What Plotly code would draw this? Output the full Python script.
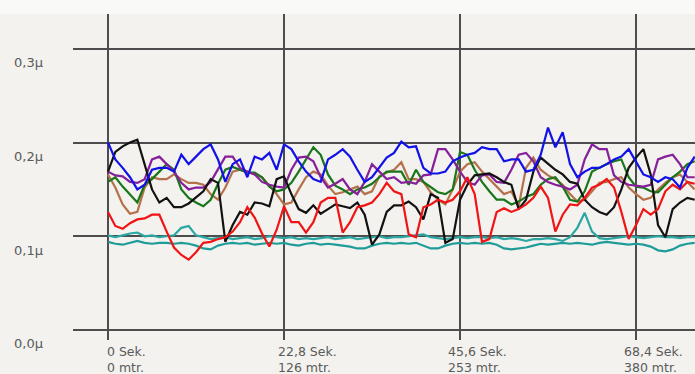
import plotly.graph_objects as go

# Sample times in seconds (one reading every 0.95 s)
STEP = 0.95
time_s = [round(i * STEP, 2) for i in range(81)]

blue = [0.200, 0.182, 0.173, 0.163, 0.150, 0.155, 0.171, 0.173, 0.173, 0.169,
        0.187, 0.177, 0.185, 0.193, 0.198, 0.182, 0.158, 0.177, 0.182, 0.163,
        0.185, 0.182, 0.189, 0.171, 0.198, 0.193, 0.180, 0.169, 0.161, 0.158,
        0.182, 0.187, 0.193, 0.185, 0.171, 0.158, 0.163, 0.173, 0.184, 0.189,
        0.201, 0.195, 0.196, 0.173, 0.167, 0.167, 0.169, 0.180, 0.184, 0.187,
        0.189, 0.195, 0.193, 0.193, 0.180, 0.182, 0.182, 0.169, 0.171, 0.187,
        0.216, 0.195, 0.211, 0.177, 0.163, 0.169, 0.173, 0.173, 0.177, 0.182,
        0.185, 0.193, 0.180, 0.166, 0.163, 0.158, 0.163, 0.161, 0.152, 0.173,
        0.185]

purple = [0.169, 0.165, 0.164, 0.158, 0.157, 0.161, 0.182, 0.185, 0.177, 0.169,
          0.157, 0.150, 0.152, 0.152, 0.158, 0.171, 0.185, 0.185, 0.173, 0.169,
          0.166, 0.158, 0.155, 0.153, 0.152, 0.171, 0.184, 0.185, 0.180, 0.163,
          0.152, 0.156, 0.161, 0.150, 0.145, 0.158, 0.177, 0.169, 0.161, 0.163,
          0.157, 0.158, 0.156, 0.165, 0.166, 0.193, 0.193, 0.182, 0.169, 0.158,
          0.155, 0.165, 0.166, 0.158, 0.157, 0.171, 0.187, 0.189, 0.180, 0.163,
          0.158, 0.155, 0.153, 0.150, 0.155, 0.182, 0.198, 0.193, 0.193, 0.165,
          0.158, 0.155, 0.154, 0.153, 0.155, 0.182, 0.185, 0.187, 0.177, 0.163,
          0.163]

green = [0.158, 0.163, 0.153, 0.145, 0.136, 0.155, 0.161, 0.169, 0.177, 0.171,
         0.150, 0.141, 0.136, 0.132, 0.139, 0.156, 0.171, 0.174, 0.171, 0.168,
         0.168, 0.163, 0.153, 0.148, 0.150, 0.157, 0.169, 0.182, 0.195, 0.187,
         0.166, 0.154, 0.150, 0.145, 0.150, 0.152, 0.156, 0.163, 0.169, 0.169,
         0.169, 0.155, 0.171, 0.158, 0.152, 0.147, 0.145, 0.150, 0.190, 0.187,
         0.171, 0.158, 0.148, 0.139, 0.139, 0.134, 0.137, 0.142, 0.145, 0.155,
         0.161, 0.163, 0.153, 0.139, 0.137, 0.148, 0.169, 0.173, 0.177, 0.180,
         0.182, 0.163, 0.153, 0.152, 0.148, 0.147, 0.155, 0.163, 0.169, 0.177,
         0.180]

black = [0.169, 0.190, 0.196, 0.200, 0.203, 0.177, 0.150, 0.136, 0.141, 0.131,
         0.131, 0.135, 0.141, 0.148, 0.161, 0.157, 0.094, 0.112, 0.126, 0.123,
         0.136, 0.135, 0.132, 0.161, 0.164, 0.145, 0.129, 0.125, 0.133, 0.124,
         0.129, 0.134, 0.132, 0.130, 0.136, 0.123, 0.091, 0.102, 0.126, 0.133,
         0.133, 0.137, 0.131, 0.118, 0.145, 0.141, 0.093, 0.097, 0.139, 0.155,
         0.165, 0.166, 0.167, 0.163, 0.158, 0.155, 0.129, 0.139, 0.169, 0.184,
         0.177, 0.171, 0.166, 0.158, 0.156, 0.139, 0.131, 0.126, 0.123, 0.131,
         0.150, 0.173, 0.184, 0.193, 0.166, 0.112, 0.099, 0.129, 0.136, 0.141,
         0.139]

red = [0.126, 0.111, 0.108, 0.114, 0.118, 0.119, 0.123, 0.123, 0.105, 0.088,
       0.080, 0.075, 0.083, 0.093, 0.094, 0.097, 0.099, 0.105, 0.115, 0.131,
       0.120, 0.103, 0.089, 0.107, 0.132, 0.115, 0.115, 0.104, 0.115, 0.136,
       0.141, 0.141, 0.104, 0.115, 0.131, 0.133, 0.136, 0.145, 0.157, 0.148,
       0.145, 0.102, 0.099, 0.131, 0.134, 0.139, 0.136, 0.139, 0.148, 0.163,
       0.145, 0.094, 0.097, 0.126, 0.130, 0.126, 0.129, 0.134, 0.141, 0.153,
       0.141, 0.105, 0.123, 0.134, 0.133, 0.141, 0.152, 0.155, 0.161, 0.152,
       0.126, 0.097, 0.112, 0.129, 0.123, 0.129, 0.148, 0.155, 0.150, 0.158,
       0.156]

brown = [0.166, 0.152, 0.134, 0.124, 0.126, 0.152, 0.163, 0.161, 0.161, 0.166,
         0.161, 0.157, 0.157, 0.155, 0.145, 0.139, 0.152, 0.169, 0.171, 0.169,
         0.166, 0.163, 0.154, 0.145, 0.134, 0.136, 0.150, 0.163, 0.169, 0.166,
         0.154, 0.145, 0.147, 0.150, 0.153, 0.145, 0.148, 0.164, 0.168, 0.171,
         0.179, 0.161, 0.161, 0.158, 0.147, 0.139, 0.134, 0.150, 0.169, 0.177,
         0.179, 0.169, 0.161, 0.152, 0.145, 0.148, 0.132, 0.173, 0.184, 0.171,
         0.165, 0.161, 0.155, 0.145, 0.137, 0.139, 0.148, 0.157, 0.158, 0.161,
         0.163, 0.152, 0.145, 0.139, 0.141, 0.150, 0.157, 0.163, 0.166, 0.158,
         0.150]

teal_a = [0.101, 0.099, 0.101, 0.103, 0.104, 0.100, 0.101, 0.099, 0.100, 0.101,
          0.109, 0.111, 0.101, 0.099, 0.097, 0.098, 0.099, 0.097, 0.098, 0.099,
          0.097, 0.098, 0.100, 0.099, 0.098, 0.099, 0.097, 0.098, 0.097, 0.098,
          0.099, 0.097, 0.098, 0.099, 0.097, 0.098, 0.099, 0.100, 0.098, 0.099,
          0.099, 0.100, 0.101, 0.102, 0.099, 0.098, 0.097, 0.098, 0.099, 0.098,
          0.099, 0.099, 0.098, 0.099, 0.097, 0.098, 0.097, 0.095, 0.097, 0.097,
          0.098, 0.097, 0.095, 0.099, 0.109, 0.125, 0.105, 0.098, 0.097, 0.098,
          0.099, 0.100, 0.099, 0.098, 0.099, 0.100, 0.099, 0.099, 0.098, 0.099,
          0.099]

teal_b = [0.094, 0.092, 0.091, 0.093, 0.095, 0.093, 0.092, 0.093, 0.093, 0.092,
          0.093, 0.092, 0.090, 0.087, 0.086, 0.090, 0.092, 0.093, 0.092, 0.093,
          0.091, 0.092, 0.093, 0.092, 0.093, 0.091, 0.090, 0.092, 0.093, 0.091,
          0.092, 0.091, 0.090, 0.089, 0.087, 0.087, 0.090, 0.092, 0.093, 0.092,
          0.093, 0.092, 0.093, 0.090, 0.087, 0.087, 0.090, 0.092, 0.093, 0.092,
          0.093, 0.092, 0.093, 0.091, 0.087, 0.086, 0.087, 0.088, 0.090, 0.092,
          0.091, 0.092, 0.093, 0.092, 0.093, 0.092, 0.091, 0.093, 0.094, 0.093,
          0.092, 0.091, 0.092, 0.091, 0.089, 0.085, 0.084, 0.086, 0.090, 0.092,
          0.093]

# Axis ticks
x_ticks = [0, 22.8, 45.6, 68.4]
x_tick_sek = ["0 Sek.", "22,8 Sek.", "45,6 Sek.", "68,4 Sek."]
x_tick_mtr = ["0 mtr.", "126 mtr.", "253 mtr.", "380 mtr."]
y_ticks = [0.0, 0.1, 0.2, 0.3]
y_tick_text = ["0,0µ", "0,1µ", "0,2µ", "0,3µ"]

series = [
    (teal_b, "#1f9c98"),
    (teal_a, "#2aa7a2"),
    (brown, "#b5724a"),
    (green, "#1a761a"),
    (purple, "#86209a"),
    (black, "#121212"),
    (red, "#f01414"),
    (blue, "#1212e8"),
]

fig = go.Figure()
for values, color in series:
    fig.add_trace(go.Scatter(
        x=time_s, y=values, mode="lines",
        line=dict(color=color, width=2.2),
        hoverinfo="skip", showlegend=False,
    ))

GRID = "#4d4d4d"
TEXT = "#5a5a5a"
FONT = "DejaVu Sans"

fig.update_layout(
    width=695, height=374,
    margin=dict(l=73, r=0, t=14, b=34),
    paper_bgcolor="#f3f2ef",
    plot_bgcolor="#f3f2ef",
    showlegend=False,
    xaxis=dict(
        range=[-4.534, 76.04], tickvals=x_ticks, showticklabels=False,
        showgrid=True, gridcolor=GRID, gridwidth=1.6, zeroline=False,
        showline=False, ticks="", fixedrange=True,
    ),
    yaxis=dict(
        range=[-0.0107, 0.3372], tickvals=y_ticks, showticklabels=False,
        showgrid=True, gridcolor=GRID, gridwidth=1.6, zeroline=False,
        showline=False, ticks="", fixedrange=True,
    ),
)

# Light strip along the top edge of the page
fig.add_shape(type="rect", xref="paper", yref="paper",
              x0=-0.2, x1=1.0, y0=1.0, y1=1.1,
              fillcolor="#f9f9f8", line=dict(width=0), layer="below")

# Y tick labels sit just below their gridlines
for v, txt in zip(y_ticks, y_tick_text):
    fig.add_annotation(
        x=-0.098, xref="paper", xanchor="left",
        y=v, yref="y", yanchor="middle", yshift=-14,
        text=txt, showarrow=False,
        font=dict(family=FONT, size=13, color=TEXT),
    )

# X tick labels: time on the first line, distance on the second
x_shifts = [-3, -8, -14, -14]
for xv, sek, mtr, dx in zip(x_ticks, x_tick_sek, x_tick_mtr, x_shifts):
    fig.add_annotation(
        x=xv, xref="x", xanchor="left", xshift=dx,
        y=0, yref="paper", yanchor="top", yshift=-2,
        text=f"{sek}<br>{mtr}", align="left", showarrow=False,
        font=dict(family=FONT, size=12.5, color=TEXT),
    )

fig.write_html("out.html")
